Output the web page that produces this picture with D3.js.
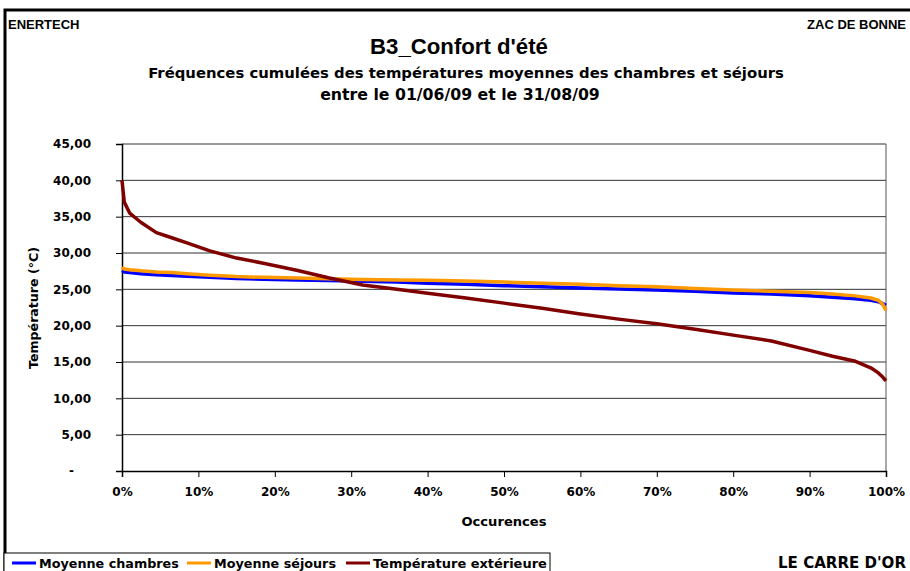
<!DOCTYPE html>
<html>
<head>
<meta charset="utf-8">
<script src="https://cdn.jsdelivr.net/npm/d3@7"></script>
<style>
  body { margin: 0; background: #fff; }
  svg { display: block; font-family: "DejaVu Sans", Verdana, sans-serif; font-weight: bold; }
  .grid line { stroke: #333; stroke-width: 1px; }
  .axis path, .axis line { stroke: #000; }
  .axis text { font-size: 12px; font-weight: bold; font-family: "DejaVu Sans", Verdana, sans-serif; fill: #000; }
  .curve { fill: none; stroke-width: 3.5px; stroke-linejoin: round; }
</style>
</head>
<body>
<svg id="chart" width="910" height="571"></svg>
<script>
  // occurences (%) and sorted temperatures (°C)
  const occurences = [0, 0.3, 1, 2.5, 4.5, 6.5, 8.5, 11.5, 15, 18.5, 23, 27, 31.5, 36, 40, 45, 50,
    55, 60, 65, 70, 75, 80, 85, 90, 93, 96, 98, 99, 99.6, 100];
  const chambres = [27.6, 27.4, 27.3, 27.15, 27.0, 26.9, 26.8, 26.65, 26.5, 26.4, 26.3, 26.2, 26.1, 26.0, 25.85, 25.7, 25.5,
    25.35, 25.2, 25.05, 24.9, 24.75, 24.5, 24.35, 24.1, 23.9, 23.7, 23.5, 23.3, 23.0, 22.8];
  const sejours = [28.0, 27.8, 27.7, 27.55, 27.4, 27.3, 27.15, 26.95, 26.75, 26.65, 26.55, 26.45, 26.35, 26.3, 26.25, 26.15, 26.0,
    25.85, 25.7, 25.5, 25.35, 25.1, 24.9, 24.75, 24.55, 24.35, 24.1, 23.8, 23.5, 22.9, 22.1];
  const exterieure = [40.0, 37.0, 35.5, 34.2, 32.8, 32.1, 31.4, 30.3, 29.3, 28.6, 27.6, 26.6, 25.6, 25.0, 24.45, 23.8, 23.1,
    22.4, 21.6, 20.9, 20.25, 19.5, 18.7, 17.9, 16.6, 15.8, 15.1, 14.2, 13.5, 12.9, 12.4];

  const seriesNames = ["Moyenne chambres", "Moyenne séjours", "Température extérieure"];
  const seriesColors = ["#0000ff", "#ff9900", "#800000"];
  const seriesValues = [chambres, sejours, exterieure];

  const yTicks = [0, 5, 10, 15, 20, 25, 30, 35, 40, 45];
  const xTicks = [0, 10, 20, 30, 40, 50, 60, 70, 80, 90, 100];

  const svg = d3.select("#chart");
  const plot = {left: 122, right: 886, top: 144, bottom: 471};

  const x = d3.scaleLinear().domain([0, 100]).range([plot.left, plot.right]);
  const y = d3.scaleLinear().domain([0, 45]).range([plot.bottom, plot.top]);

  // scale a text's font size so it spans the given width
  function fit(sel, w) {
    const len = sel.node().getComputedTextLength();
    sel.attr("font-size", +sel.attr("font-size") * w / len);
    return sel;
  }

  function label(px, py, size, txt, anchor) {
    return svg.append("text").attr("x", px).attr("y", py).attr("font-size", size)
      .attr("text-anchor", anchor || "start").text(txt);
  }

  // outer frame
  svg.append("path")
    .attr("d", "M5,571V10H910")
    .attr("fill", "none").attr("stroke", "#000").attr("stroke-width", 3);

  // header texts
  label(8, 29, 13, "ENERTECH").style("font-family", "Liberation Sans, Arial");
  label(906, 29, 13, "ZAC DE BONNE", "end").style("font-family", "Liberation Sans, Arial");
  fit(label(459, 54, 20, "B3_Confort d'été", "middle").style("font-family", "Liberation Sans, Arial"), 178);
  fit(label(466, 78, 13, "Fréquences cumulées des températures moyennes des chambres et séjours", "middle"), 636);
  fit(label(460, 100, 13, "entre le 01/06/09 et le 31/08/09", "middle"), 280);

  // gridlines
  svg.append("g").attr("class", "grid")
    .selectAll("line").data(yTicks.filter(d => d > 0)).join("line")
    .attr("x1", plot.left).attr("x2", plot.right)
    .attr("y1", d => y(d)).attr("y2", d => y(d));

  // right border of plot
  svg.append("line").attr("x1", plot.right).attr("x2", plot.right)
    .attr("y1", plot.top).attr("y2", plot.bottom).attr("stroke", "#555");

  // axes
  const fmt = d => d === 0 ? "-" : d3.format(".2f")(d).replace(".", ",");
  svg.append("g").attr("class", "axis")
    .attr("transform", `translate(${plot.left},0)`)
    .call(d3.axisLeft(y).tickValues(yTicks).tickFormat(fmt).tickSize(6).tickPadding(25))
    .call(g => g.selectAll("text").attr("dx", d => d === 0 ? -17 : 0));

  svg.append("g").attr("class", "axis")
    .attr("transform", `translate(0,${plot.bottom})`)
    .call(d3.axisBottom(x).tickValues(xTicks).tickFormat(d => d + "%").tickSize(6).tickPadding(10));

  svg.selectAll(".axis .domain").attr("stroke-width", 1.5);

  // axis titles
  fit(svg.append("text").attr("transform", "translate(38,308) rotate(-90)")
    .attr("font-size", 12).attr("text-anchor", "middle").text("Température (°C)"), 122);
  fit(label(504, 526, 12, "Occurences", "middle"), 85);

  // curves
  const line = d3.line().x((d, i) => x(occurences[i])).y(d => y(d));
  svg.append("g").selectAll("path").data(seriesValues).join("path")
    .attr("class", "curve")
    .attr("stroke", (d, i) => seriesColors[i])
    .attr("d", d => line(d));

  // legend
  const lg = svg.append("g");
  lg.append("rect").attr("x", 4).attr("y", 553).attr("width", 546).attr("height", 22)
    .attr("fill", "#fff").attr("stroke", "#000").attr("stroke-width", 1);
  const legendX = [12, 187, 346];
  const legendW = [140, 122, 174];
  seriesNames.forEach((name, i) => {
    lg.append("line").attr("x1", legendX[i]).attr("x2", legendX[i] + 24)
      .attr("y1", 563).attr("y2", 563).attr("stroke", seriesColors[i]).attr("stroke-width", 3);
    fit(lg.append("text").attr("x", legendX[i] + 27).attr("y", 568).attr("font-size", 12).text(name), legendW[i]);
  });

  fit(label(906, 568, 12, "LE CARRE D'OR", "end"), 128);
</script>
</body>
</html>
